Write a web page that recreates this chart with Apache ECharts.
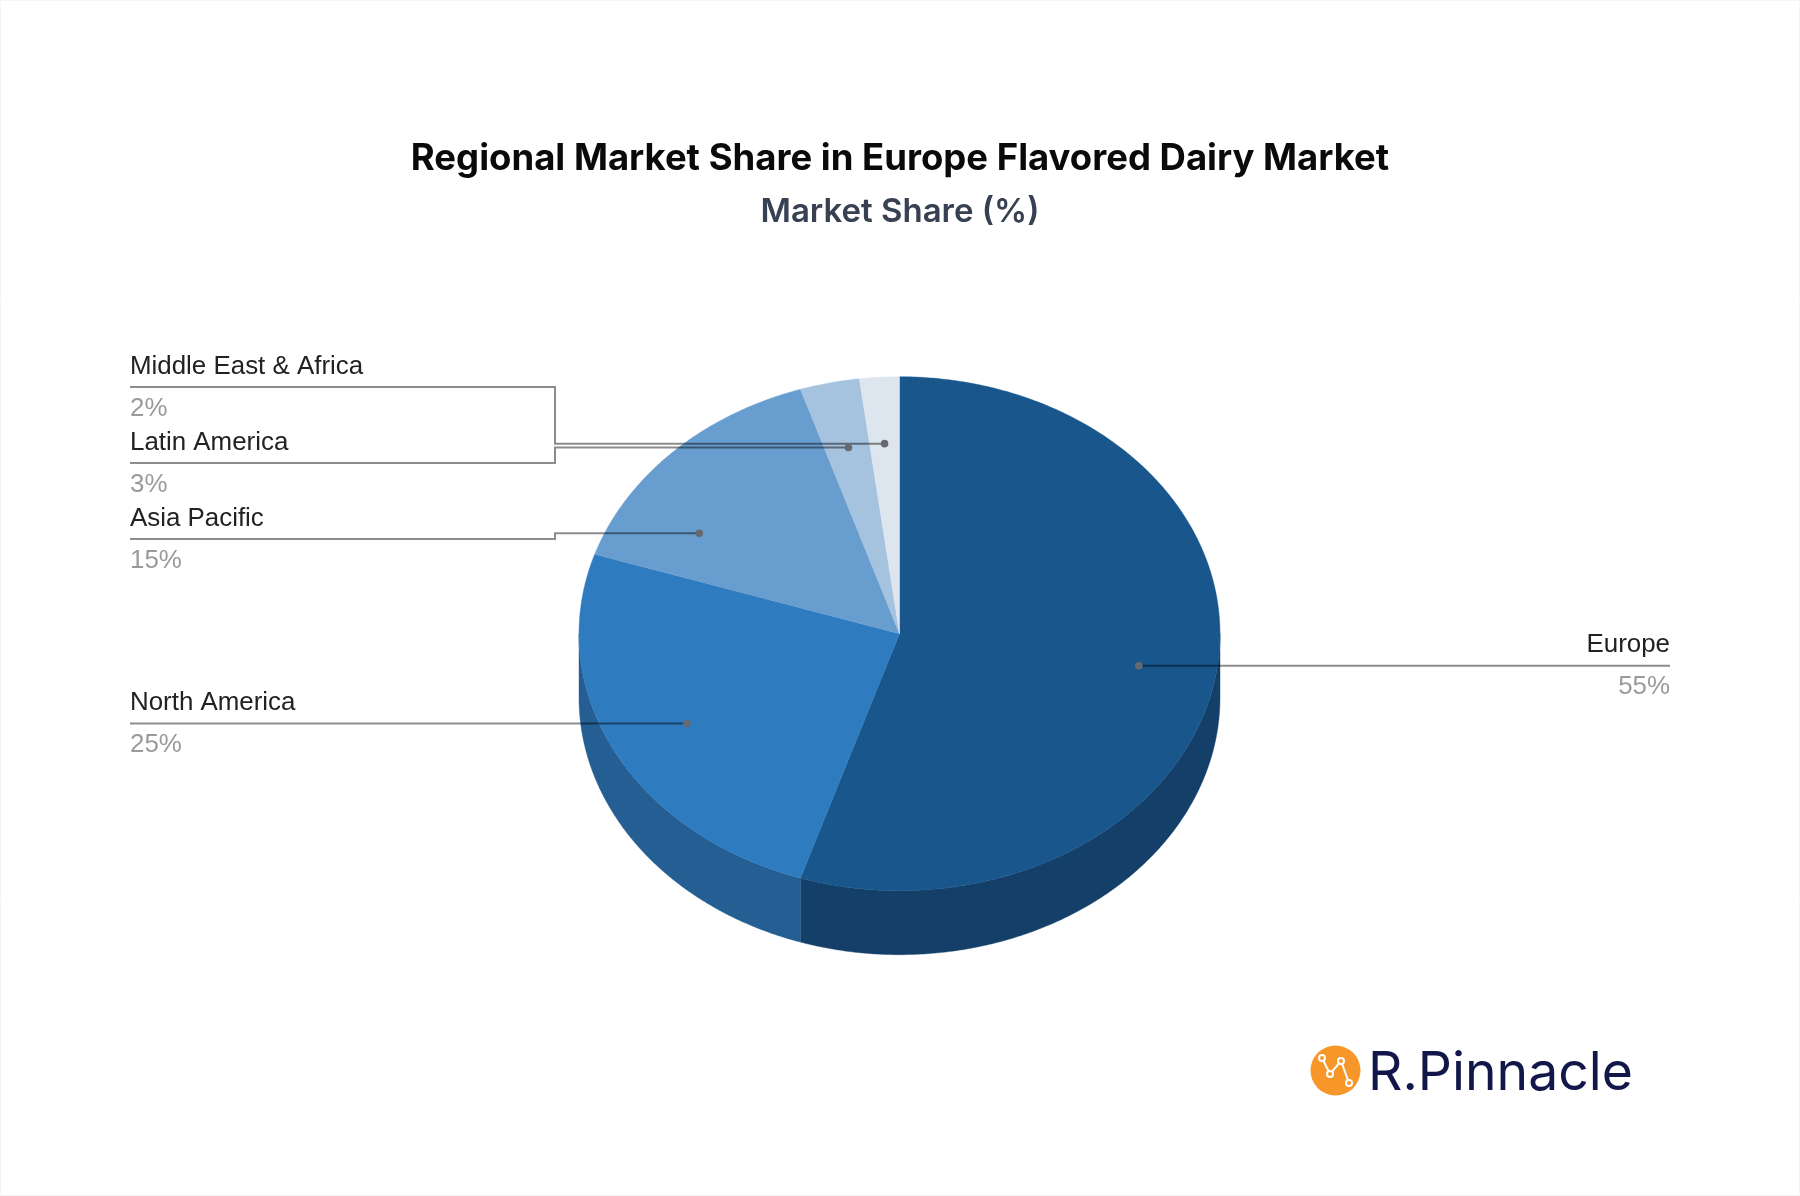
<!DOCTYPE html>
<html><head><meta charset="utf-8">
<style>html,body{margin:0;padding:0;background:#fff}#c{width:1800px;height:1196px}</style>
<script src="https://cdn.jsdelivr.net/npm/echarts@6/dist/echarts.min.js"></script>
</head><body><div id="c"></div>
<script>
// ---- data ----
const categories = ['Europe', 'North America', 'Asia Pacific', 'Latin America', 'Middle East & Africa'];
const shares = [55, 25, 15, 3, 2];
const topColors = ['#18568C', '#2E7BC0', '#689ECF', '#A5C2DE', '#DDE6EF'];
const sideColors = ['#133F69', '#245E92', '#4E77A0', '#7C92A7', '#A6ADB3'];
// ---- label layout (anchor shift in degrees and radial fraction on its slice, row of the label line) ----
const anchorShift = [0.5, -0.8, -13, 0.2, 0];
const anchorRadius = [0.757, 0.75, 0.737, 0.742, 0.741];
const labelRowY = [null, null, 539, 463, 387];
// ---- pie geometry ----
const CX = 899.5, CY = 633.7, RX = 320.5, RY = 257, DEPTH = 64;
const LEFT_X = 130, RIGHT_X = 1670, ELBOW_X = 555;
const total = shares.reduce((a, b) => a + b, 0);
const starts = []; { let s = 0; shares.forEach(v => { starts.push(s); s += v; }); }

const pt = (deg, off) => {
  const a = deg * Math.PI / 180;
  return [CX + RX * Math.sin(a), CY - RY * Math.cos(a) + (off || 0)];
};
const arcPts = (a0, a1, off) => {
  const n = Math.max(2, Math.ceil(Math.abs(a1 - a0) * 2)), out = [];
  for (let i = 0; i <= n; i++) out.push(pt(a0 + (a1 - a0) * i / n, off));
  return out;
};

function renderSlice(params, api) {
  const i = params.dataIndex, v = api.value(0);
  const a0 = starts[i] / total * 360, a1 = a0 + v / total * 360;
  const children = [];
  // front wall: only the part of the rim facing the viewer
  const w0 = Math.max(a0, 90), w1 = Math.min(a1, 270);
  if (w1 > w0) {
    children.push({
      type: 'polygon', z2: 1,
      shape: { points: arcPts(w0, w1, 0).concat(arcPts(w1, w0, DEPTH)) },
      style: { fill: sideColors[i], stroke: sideColors[i], lineWidth: 0.4 }
    });
  }
  // top face
  children.push({
    type: 'polygon', z2: 2,
    shape: { points: [[CX, CY]].concat(arcPts(a0, a1, 0)) },
    style: { fill: topColors[i], stroke: topColors[i], lineWidth: 0.4 }
  });
  // leader
  const [ax, ay] = pt((a0 + a1) / 2 + anchorShift[i]);
  const anchor = [CX + (ax - CX) * anchorRadius[i], CY + (ay - CY) * anchorRadius[i]];
  const right = anchor[0] > CX;
  const rowY = labelRowY[i] == null ? anchor[1] : labelRowY[i];
  const endX = right ? RIGHT_X : LEFT_X;
  const line = rowY === anchor[1]
    ? [anchor, [endX, rowY]]
    : [anchor, [ELBOW_X, anchor[1]], [ELBOW_X, rowY], [endX, rowY]];
  children.push({
    type: 'polyline', z2: 3, shape: { points: line },
    style: { fill: null, stroke: 'rgba(0,0,0,0.45)', lineWidth: 2 }
  });
  children.push({
    type: 'circle', z2: 4, shape: { cx: anchor[0], cy: anchor[1], r: 3.8 },
    style: { fill: '#666a70' }
  });
  const align = right ? 'right' : 'left';
  children.push({
    type: 'text', z2: 5,
    style: { text: categories[i], x: endX, y: rowY - 20.5, fill: '#222222', align: align, verticalAlign: 'middle',
      textAlign: align, textVerticalAlign: 'middle', font: '25.9px "Liberation Sans"' }
  });
  children.push({
    type: 'text', z2: 5,
    style: { text: v + '%', x: endX, y: rowY + 21.5, fill: '#9a9a9a', align: align, verticalAlign: 'middle',
      textAlign: align, textVerticalAlign: 'middle', font: '25.9px "Liberation Sans"' }
  });
  return { type: 'group', children };
}

const logoPts = [[1322, 1058], [1330, 1074], [1341, 1061], [1349, 1083]];
const chart = echarts.init(document.getElementById('c'), null, { renderer: 'canvas' });
chart.setOption({
  animation: false,
  backgroundColor: '#fff',
  title: [
    { text: 'Regional Market Share in Europe Flavored Dairy Market', left: 895, top: 133.5, textAlign: 'center',
      textStyle: { fontFamily: 'Inter', fontWeight: 700, fontSize: 36.5, color: '#0a0a0a', lineHeight: 42 } },
    { text: 'Market Share (%)', left: 895, top: 187.5, textAlign: 'center',
      textStyle: { fontFamily: 'Inter', fontWeight: 600, fontSize: 33, color: '#374151', lineHeight: 40 } }
  ],
  series: [{
    type: 'custom', coordinateSystem: 'none', silent: true,
    renderItem: renderSlice,
    data: shares.map(v => [v])
  }],
  graphic: [
    { type: 'rect', shape: { x: 0.5, y: 0.5, width: 1799, height: 1195 }, style: { fill: null, stroke: '#f5f5f5', lineWidth: 1 } },
    { type: 'circle', shape: { cx: 1335.5, cy: 1070.5, r: 25 }, style: { fill: '#F7972A' } },
    { type: 'polyline', shape: { points: logoPts }, style: { fill: null, stroke: '#fff', lineWidth: 2 } },
    ...logoPts.map(p => ({
      type: 'circle', shape: { cx: p[0], cy: p[1], r: 3 },
      style: { fill: '#F7972A', stroke: '#fff', lineWidth: 2 }, z: 5 })),
    { type: 'text', style: { text: 'R.Pinnacle', x: 1368, y: 1074, fill: '#12174A', font: '400 53.5px Inter',
      textAlign: 'left', textVerticalAlign: 'middle', align: 'left', verticalAlign: 'middle' } }
  ]
});
</script></body></html>
